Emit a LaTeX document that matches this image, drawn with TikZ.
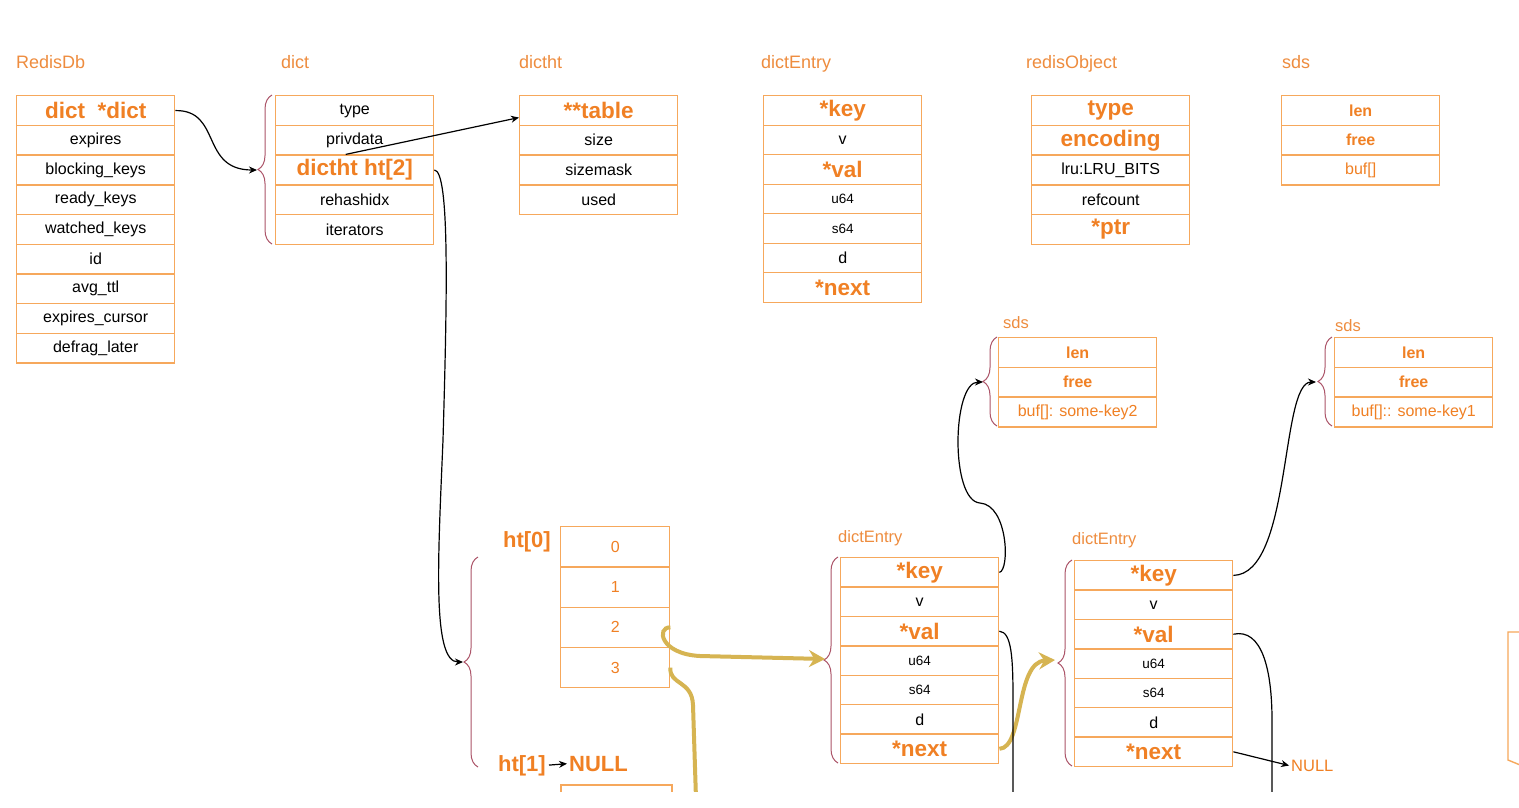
\documentclass[tikz,border=0pt]{standalone}
\usepackage{fontspec}
\setmainfont{Liberation Sans}
\usetikzlibrary{arrows.meta, decorations.pathreplacing, calc}
\definecolor{boxline}{RGB}{246, 168, 92}
\definecolor{keyorange}{RGB}{240, 128, 36}
\definecolor{titleorange}{RGB}{238, 140, 62}
\definecolor{bracered}{RGB}{172, 84, 104}
\definecolor{goldline}{RGB}{214, 180, 82}

\begin{document}
\begin{tikzpicture}[x=1pt, y=-1pt,
    cell/.style={draw=boxline, line width=1.4pt, minimum width=158pt, minimum height=29.7pt,
                 inner sep=0pt, anchor=north west},
    fld/.style={font=\fontsize{16}{19}\selectfont, text=black},
    sml/.style={font=\fontsize{13.5}{16}\selectfont, text=black},
    big/.style={font=\fontsize{22.5}{26}\selectfont\bfseries, text=keyorange},
    kw/.style={font=\fontsize{16}{19}\selectfont\bfseries, text=keyorange},
    otx/.style={font=\fontsize{16}{19}\selectfont, text=keyorange},
    title/.style={anchor=base west, inner sep=0pt, text=titleorange, font=\fontsize{18}{21}\selectfont},
    subtitle/.style={title, font=\fontsize{16.5}{20}\selectfont},
    lbl/.style={inner sep=0pt, text=keyorange, font=\fontsize{22}{26}\selectfont\bfseries},
    br/.style={decorate, decoration={brace, amplitude=14pt}, draw=bracered, line width=1pt},
    arr/.style={-{Stealth[length=8pt, width=7pt]}, line width=1.2pt, black},
    lnk/.style={line width=1.2pt, black},
    gold/.style={-{Stealth[length=16pt, width=17pt]}, line width=4pt, goldline},
    goldln/.style={line width=4pt, goldline}
]
\useasboundingbox (0,0) rectangle (1519,807);
\fill[white] (0,0) rectangle (1519,807);
\clip (0,0) rectangle (1519,791);

% Top row of structs
\node[title] (tdb) at (16,68) {RedisDb};
\foreach \t/\st [count=\i from 0] in {{dict~~*dict}/big, expires/fld, blocking\_keys/fld, ready\_keys/fld,
    watched\_keys/fld, id/fld, avg\_ttl/fld, expires\_cursor/fld, defrag\_later/fld}
  \node[cell, \st] (db\i) at (16, {95+29.7*\i}) {\t};

\node[title] (tdc) at (281,68) {dict};
\foreach \t/\st [count=\i from 0] in {type/fld, privdata/fld, {dictht ht[2]}/big, rehashidx/fld, iterators/fld}
  \node[cell, \st] (dc\i) at (275, {95+29.7*\i}) {\t};

\node[title] (tdt) at (519,68) {dictht};
\foreach \t/\st [count=\i from 0] in {{**table}/big, size/fld, sizemask/fld, used/fld}
  \node[cell, \st] (dt\i) at (519, {95+29.7*\i}) {\t};

\node[title] (tde) at (761,68) {dictEntry};
\foreach \t/\st [count=\i from 0] in {{*key}/big, v/fld, {*val}/big, u64/sml, s64/sml, d/fld, {*next}/big}
  \node[cell, \st, minimum height=29.5pt] (de\i) at (763, {95+29.5*\i}) {\t};

\node[title] (tro) at (1026,68) {redisObject};
\foreach \t/\st [count=\i from 0] in {type/big, encoding/big, lru:LRU\_BITS/fld, refcount/fld, {*ptr}/big}
  \node[cell, \st] (ro\i) at (1031, {95+29.7*\i}) {\t};

\node[title] (tsd) at (1282,68) {sds};
\foreach \t/\st [count=\i from 0] in {len/kw, free/kw, {buf[]}/otx}
  \node[cell, \st] (sd\i) at (1281, {95+29.7*\i}) {\t};

% sds of the keys
\node[subtitle] (tsa) at (1003,328) {sds};
\foreach \t/\st [count=\i from 0] in {len/kw, free/kw, {buf[]: some-key2}/otx}
  \node[cell, \st] (sa\i) at (998, {337+29.7*\i}) {\t};
\draw[br] (997,426) -- (997,337);
\coordinate (sabr) at (983,382);

\node[subtitle] (tsb) at (1335,331) {sds};
\foreach \t/\st [count=\i from 0] in {len/kw, free/kw, {buf[]:: some-key1}/otx}
  \node[cell, \st] (sb\i) at (1334, {337+29.7*\i}) {\t};
\draw[br] (1332,426) -- (1332,337);
\coordinate (sbbr) at (1316,382);

% ht[0] table
\foreach \t [count=\i from 0] in {0,1,2,3}
  \node[cell, otx, minimum width=109pt, minimum height=40.25pt] (ht\i) at (560, {526+40.25*\i}) {\t};
\node[lbl, anchor=base east] (h0lbl) at (551,547) {ht[0]};
\node[lbl, anchor=base east] (h1lbl) at (546,771) {ht[1]};
\node[lbl, anchor=base west] (h1null) at (569,771) {NULL};
\draw[arr, shorten <=3pt, shorten >=2pt] (h1lbl.east) -- (h1null.west);
\draw[br] (478,767) -- (478,557);
\coordinate (htbr) at (463,662);
\draw[boxline, line width=1.4pt] (561,800) -- (561,785) -- (672,785) -- (672,800);

% dictEntry chain
\node[subtitle] (tea) at (838,542) {dictEntry};
\foreach \t/\st [count=\i from 0] in {{*key}/big, v/fld, {*val}/big, u64/sml, s64/sml, d/fld, {*next}/big}
  \node[cell, \st, minimum height=29.4pt] (ea\i) at (840, {557+29.4*\i}) {\t};
\draw[br] (838,763) -- (838,557);
\coordinate (eabr) at (825,659);

\node[subtitle] (teb) at (1072,544) {dictEntry};
\foreach \t/\st [count=\i from 0] in {{*key}/big, v/fld, {*val}/big, u64/sml, s64/sml, d/fld, {*next}/big}
  \node[cell, \st, minimum height=29.4pt] (eb\i) at (1074, {560+29.4*\i}) {\t};
\draw[br] (1072,766) -- (1072,560);
\coordinate (ebbr) at (1055,660);
\node[otx, anchor=west, inner sep=0pt, font=\fontsize{16.5}{20}\selectfont] (ebnull) at (1291,766) {NULL};

% cut off box at the right edge
\draw[boxline, line width=1.4pt] (1525,632) -- (1508,632) -- (1508,760) -- (1525,767);

% Arrows
\coordinate (dcbr) at (257,170);
\draw[br] (272,244) -- (272,95);
\draw[arr] (db0.east) .. controls (222,110) and (200,170) .. (dcbr);
\draw[arr] ([xshift=-9pt]dc2.north) -- ([yshift=-7pt]dt0.west);
\draw[arr] (dc2.east) .. controls (450,171) and (447,300) .. (443,440)
    .. controls (438,560) and (432,662) .. (htbr);

\coordinate (htdown) at (697,830);
\coordinate (eadown) at (1013,830);
\coordinate (ebdown) at (1272,830);

\draw[gold] (ht2.east) .. controls (656,627) and (660,654) .. (700,656) -- (eabr);
\draw[goldln] (ht3.east) .. controls (669,685) and (692,680) .. (693,705) -- (htdown);
\draw[gold] (ea6.east) .. controls (1024,748) and (1015,662) .. (ebbr);

\draw[arr] (ea0.east) .. controls (1010,570) and (1008,505) .. (980,503)
    .. controls (950,501) and (952,382) .. (sabr);
\draw[lnk] (ea2.east) .. controls (1012,632) and (1013,660) .. (1013,700) -- (eadown);

\draw[arr] (eb0.east) .. controls (1292,574) and (1280,382) .. (sbbr);
\draw[lnk] (eb2.east) .. controls (1262,628) and (1272,670) .. (1272,720) -- (ebdown);
\draw[arr, shorten >=2pt] (eb6.east) -- (ebnull.west);

\end{tikzpicture}
\end{document}
